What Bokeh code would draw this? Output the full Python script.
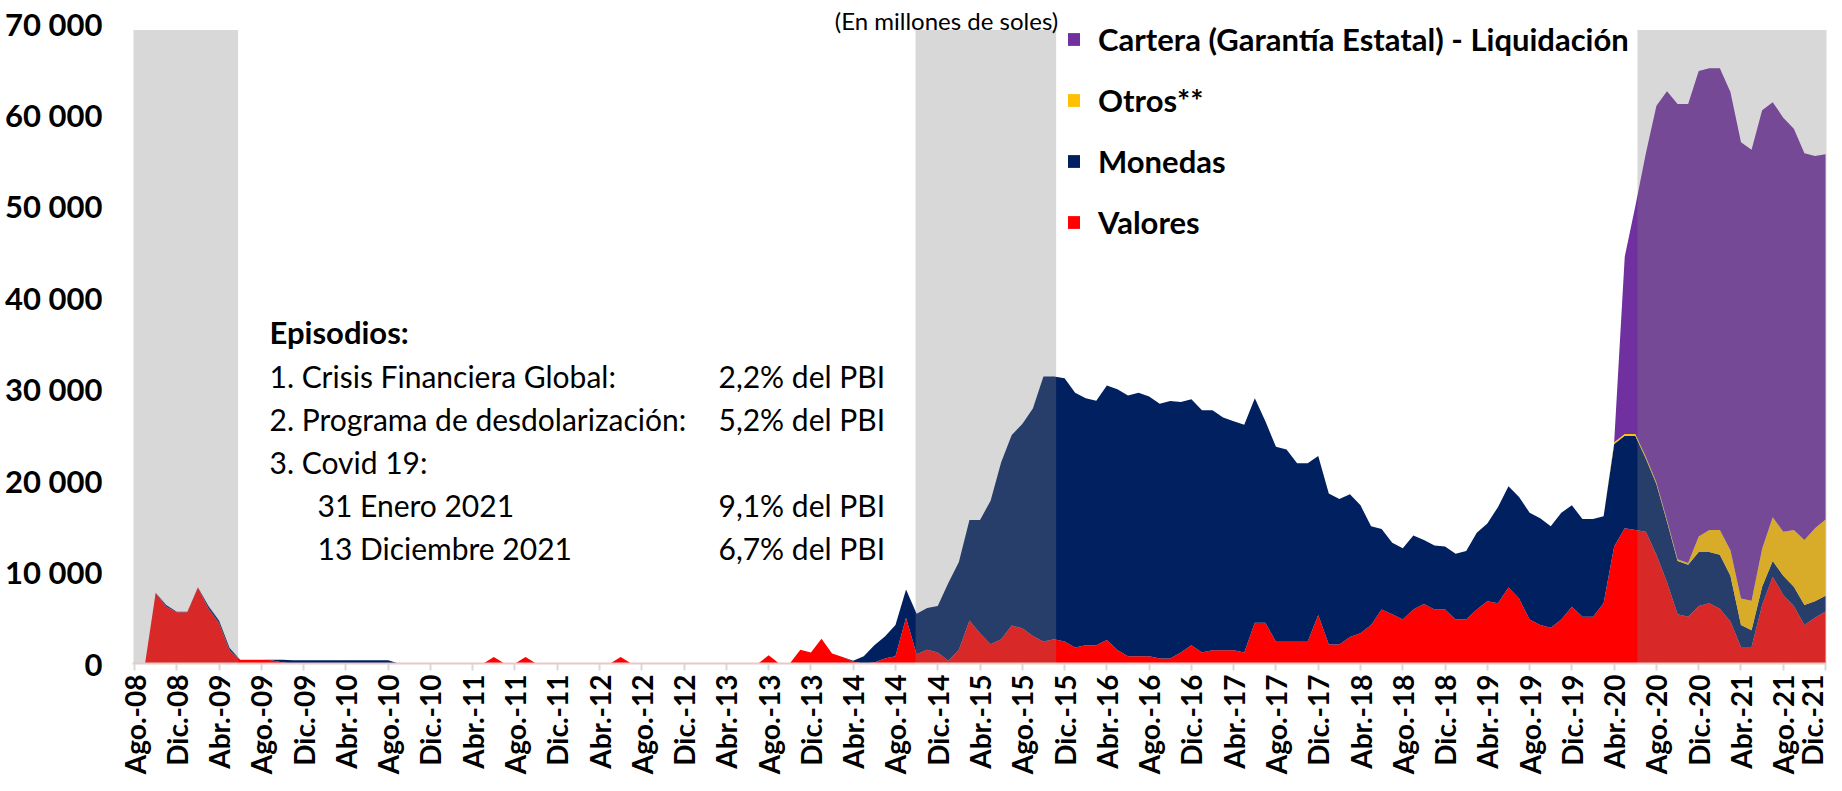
import math
from bokeh.plotting import figure
from bokeh.models import ColumnDataSource, FixedTicker, Legend, LegendItem, Range1d
from bokeh.embed import file_html
from bokeh.resources import INLINE
from bokeh.core.properties import value

# ---------------- data (millones de soles), monthly Ago-08 .. Dic-21 ----------------
tick_labels = ["Ago.-08", "Dic.-08", "Abr.-09", "Ago.-09", "Dic.-09", "Abr.-10", "Ago.-10",
               "Dic.-10", "Abr.-11", "Ago.-11", "Dic.-11", "Abr.-12", "Ago.-12", "Dic.-12",
               "Abr.-13", "Ago.-13", "Dic.-13", "Abr.-14", "Ago.-14", "Dic.-14", "Abr.-15",
               "Ago.-15", "Dic.-15", "Abr.-16", "Ago.-16", "Dic.-16", "Abr.-17", "Ago.-17",
               "Dic.-17", "Abr.-18", "Ago.-18", "Dic.-18", "Abr.-19", "Ago.-19", "Dic.-19",
               "Abr.-20", "Ago.-20", "Dic.-20", "Abr.-21", "Ago.-21", "Dic.-21"]

valores = [
    0, 0, 7700, 6200, 5600,                                             # 2008 Ago-Dic
    5600, 8300, 6000, 4400, 1400, 400, 400, 400, 350, 100, 0, 0,        # 2009
    0, 0, 0, 0, 0, 0, 0, 0, 0, 0, 0, 0,                                 # 2010
    0, 0, 0, 0, 0, 700, 0, 0, 700, 0, 0, 0,                             # 2011
    0, 0, 0, 0, 0, 700, 0, 0, 0, 0, 0, 0,                               # 2012
    0, 0, 0, 0, 0, 0, 0, 900, 0, 0, 1500, 1200,                         # 2013
    2700, 1100, 700, 200, 0, 100, 550, 800, 5000, 1000, 1500, 1200,     # 2014
    300, 1500, 4700, 3300, 2100, 2650, 4150, 3860, 3000, 2400, 2650, 2400,  # 2015
    1760, 2000, 2000, 2570, 1470, 800, 800, 800, 550, 550, 1200, 2000,  # 2016
    1200, 1450, 1450, 1450, 1200, 4450, 4450, 2370, 2370, 2370, 2370, 5300,  # 2017
    2080, 2080, 2900, 3300, 4200, 5900, 5400, 4800, 5900, 6500, 5900, 5900,  # 2018
    4800, 4800, 5900, 6800, 6600, 8300, 7100, 4800, 4200, 3900, 4800, 6200,  # 2019
    5100, 5100, 6600, 12800, 14800, 14600, 14400, 11900, 8900, 5400, 5100, 6300,  # 2020
    6600, 6000, 4600, 1800, 1800, 6400, 9500, 7500, 6300, 4200, 5000, 5700,  # 2021
]

monedas = [
    0, 0, 50, 200, 50,
    50, 50, 300, 300, 300, 0, 0, 0, 50, 300, 350, 350,
    350, 350, 350, 350, 350, 350, 350, 350, 0, 0, 0, 0,
    0, 0, 0, 0, 0, 0, 0, 0, 0, 0, 0, 0,
    0, 0, 0, 0, 0, 0, 0, 0, 0, 0, 0, 0,
    0, 0, 0, 0, 0, 0, 0, 0, 0, 0, 0, 0,
    0, 0, 0, 100, 800, 1900, 2400, 3400, 3100, 4440, 4570, 5100,
    8500, 9600, 11000, 12400, 15700, 19350, 20850, 22340, 24900, 29000, 28750, 28800,
    27840, 27000, 26750, 27830, 28530, 28500, 28800, 28400, 27850, 28150, 27400, 26900,
    26500, 26250, 25450, 25050, 24900, 24550, 22050, 21330, 21030, 19530, 19530, 17400,
    16520, 15920, 15600, 14000, 10800, 8800, 7800, 7800, 8100, 7000, 7000, 6900,
    7200, 7500, 8400, 8500, 10500, 11100, 11100, 11700, 11700, 11100, 11700, 11100,
    10700, 10700, 9500, 11200, 10100, 10300, 8000, 7700, 6600, 5800, 5700, 5900,
    5600, 5900, 5000, 2400, 1850, 2000, 1700, 2100, 2100, 2200, 1800, 1700,
]

otros = [0] * 140 + [
    200, 200, 200, 200, 200, 200, 200, 200,                             # Abr-20 .. Nov-20
    1700, 2400, 2700, 2800, 2900, 3200, 4150, 4800, 4800, 6200, 7100, 8000, 8350,
]

cartera = [0] * 141 + [
    19400, 24900, 33200, 41200, 46900, 49800, 50200,                    # May-20 .. Nov-20
    50900, 50500, 50500, 50100, 49900, 49350, 47950, 45400, 45300, 43900, 42300, 40700, 39950,
]

# episodes (shaded periods), in month index units
episode_start = [-0.1, 73.9, 142.2]
episode_end = [9.8, 87.2, 160.2]
episode_top = 69300

y_ticks = [0, 10000, 20000, 30000, 40000, 50000, 60000, 70000]
y_tick_labels = ["0", "10 000", "20 000", "30 000", "40 000", "50 000", "60 000", "70 000"]

series_names = ["Valores", "Monedas", "Otros**", "Cartera (Garantía Estatal) - Liquidación"]
series_colors = ["#FF0000", "#002060", "#FFC000", "#7030A0"]

# ---------------- figure ----------------
n = len(valores)
x = list(range(n))
src = ColumnDataSource(dict(x=x, valores=valores, monedas=monedas, otros=otros, cartera=cartera))

FONT = "Lato"
X0, X1 = -0.19, 160.09
Y0, Y1 = 0, 71969
FW, FH = 1694, 658
LEFT, TOP = 132, 5


def sx(px):  # reference-image x (pixels) -> data x  (frame left at px 133)
    return X0 + (px - 133) * (X1 - X0) / FW


def sy(py):  # reference-image y (pixels) -> data y  (frame top at px 8)
    return Y1 - (py - 8) * (Y1 - Y0) / FH


p = figure(frame_width=FW, frame_height=FH, x_range=Range1d(X0, X1), y_range=Range1d(Y0, Y1),
           output_backend="svg", toolbar_location=None,
           min_border_left=LEFT, min_border_right=2, min_border_top=TOP, min_border_bottom=112)
p.outline_line_color = None
p.xgrid.visible = False
p.ygrid.visible = False
p.background_fill_color = "white"

areas = p.varea_stack(stackers=["valores", "monedas", "otros", "cartera"], x="x",
                      color=series_colors, source=src)

p.quad(left=episode_start, right=episode_end, bottom=0, top=episode_top,
       fill_color="#808080", fill_alpha=0.31, line_color=None)

# x axis
tick_idx = list(range(0, n, 4))
p.xaxis.ticker = FixedTicker(ticks=tick_idx)
p.xaxis.major_label_overrides = {i: lab for i, lab in zip(tick_idx, tick_labels)}
p.xaxis.major_label_orientation = math.pi / 2
p.xaxis.major_label_text_font = FONT
p.xaxis.major_label_text_font_size = "28px"
p.xaxis.major_label_text_font_style = "bold"
p.xaxis.major_label_text_color = "black"
p.xaxis.axis_line_color = "#E8C8C8"
p.xaxis.axis_line_width = 2
p.xaxis.major_tick_line_color = "#D9D9D9"
p.xaxis.major_tick_line_width = 2
p.xaxis.major_tick_in = 0
p.xaxis.major_tick_out = 7
p.xaxis.minor_tick_line_color = None
p.xaxis.major_label_standoff = 4

# y axis
p.yaxis.ticker = FixedTicker(ticks=y_ticks)
p.yaxis.major_label_overrides = {v: lab for v, lab in zip(y_ticks, y_tick_labels)}
p.yaxis.major_label_text_font = FONT
p.yaxis.major_label_text_font_size = "31px"
p.yaxis.major_label_text_font_style = "bold"
p.yaxis.major_label_text_color = "black"
p.yaxis.axis_line_color = None
p.yaxis.major_tick_line_color = None
p.yaxis.major_tick_out = 0
p.yaxis.major_tick_in = 0
p.yaxis.minor_tick_line_color = None
p.yaxis.major_label_standoff = 30

# legend (top to bottom: Cartera, Otros, Monedas, Valores)
items = [LegendItem(label=value(series_names[k]), renderers=[areas[k]]) for k in (3, 2, 1, 0)]
legend = Legend(items=items, location=(934, 422), orientation="vertical",
                glyph_width=15, glyph_height=16, label_standoff=17, spacing=23, label_height=32,
                label_text_font=FONT, label_text_font_size="31px", label_text_font_style="bold",
                label_text_color="black", padding=0, margin=0,
                border_line_color=None, background_fill_alpha=0)
p.add_layout(legend)

# title (only partially visible in the original)
p.text(x=[sx(947)], y=[sy(8)], text=["(En millones de soles)"], text_font=value(FONT),
       text_font_size="24px", text_align="center", text_baseline="top", text_color="black")

# episodes annotation
p.text(x=[sx(270)], y=[sy(334)], text=["Episodios:"], text_font=value(FONT),
       text_font_size="31px", text_font_style="bold", text_baseline="middle", text_color="black")
left_lines = ["1. Crisis Financiera Global:", "2. Programa de desdolarización:", "3. Covid 19:",
              "31 Enero 2021", "13 Diciembre 2021"]
left_x = [270, 270, 270, 318, 318]
line_y = [378, 421, 464, 507, 550]
p.text(x=[sx(v) for v in left_x], y=[sy(v) for v in line_y], text=left_lines,
       text_font=value(FONT), text_font_size="30px", text_baseline="middle", text_color="black")
pbi_lines = ["2,2% del PBI", "5,2% del PBI", "9,1% del PBI", "6,7% del PBI"]
pbi_y = [378, 421, 507, 550]
p.text(x=[sx(719)] * 4, y=[sy(v) for v in pbi_y], text=pbi_lines,
       text_font=value(FONT), text_font_size="30px", text_baseline="middle", text_color="black")

open("out.html", "w").write(file_html(p, INLINE))
